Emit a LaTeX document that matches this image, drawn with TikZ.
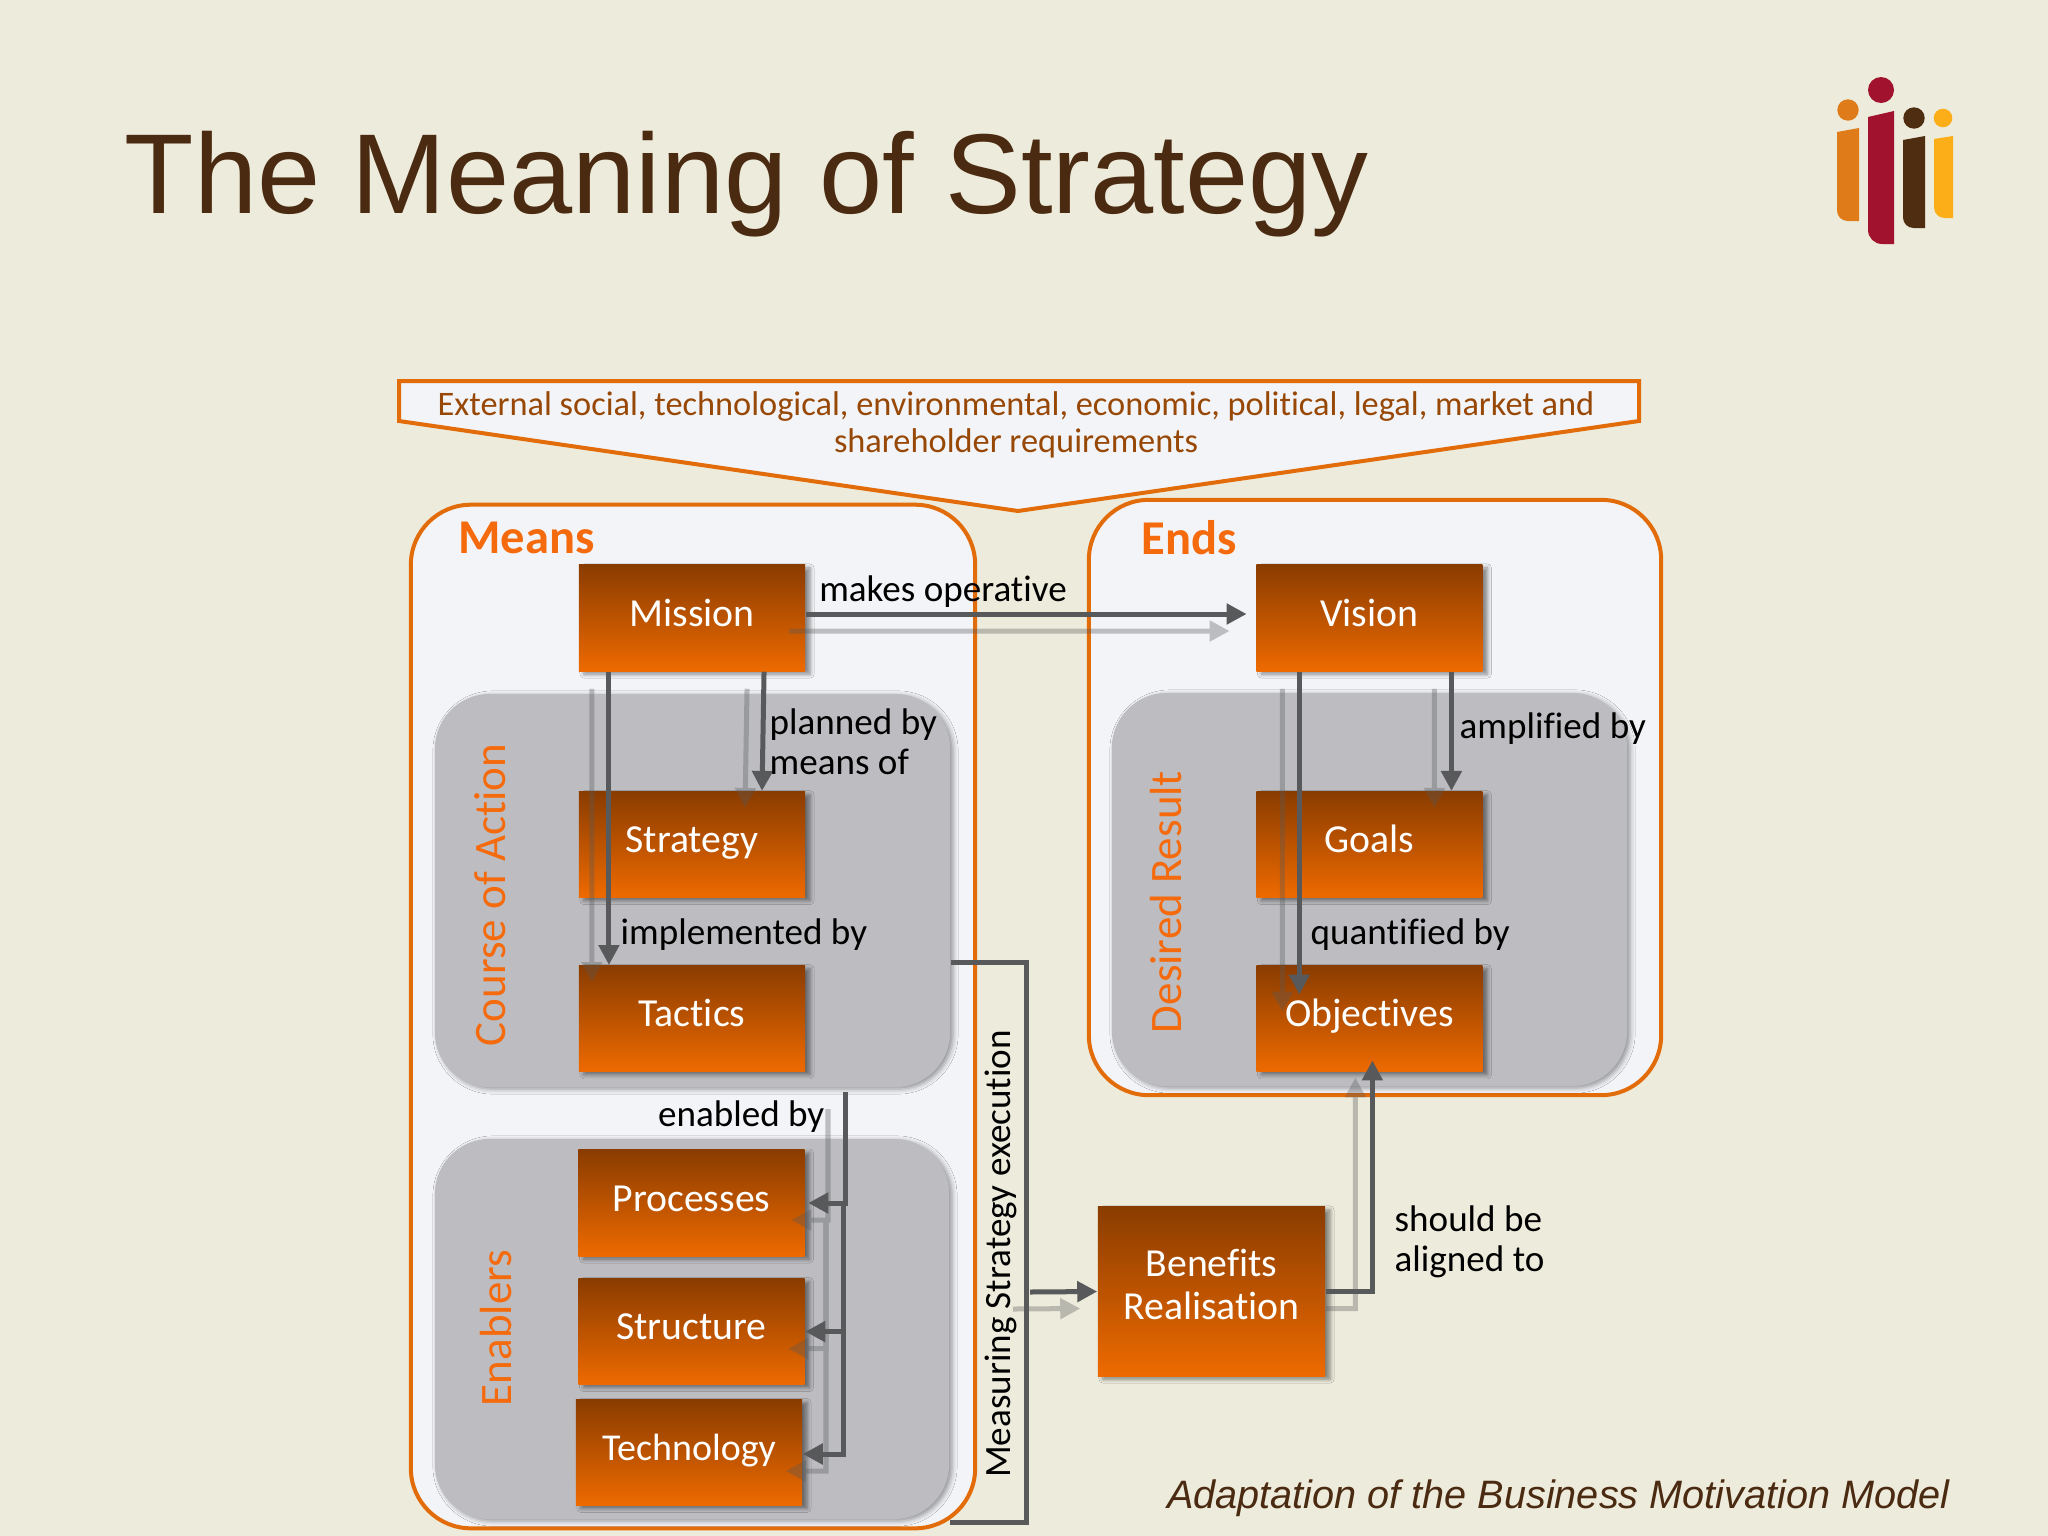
\documentclass[tikz,border=0pt]{standalone}
\usepackage{fontspec}
\setmainfont[Ligatures=NoCommon]{Carlito}
\newfontfamily\titlefont{Liberation Sans}
\usetikzlibrary{arrows.meta,shadows.blur}
\definecolor{slidebg}{HTML}{EDEBDC}
\definecolor{panelwhite}{HTML}{F3F4F7}
\definecolor{panelgrey}{HTML}{BDBDC1}
\definecolor{edgeorange}{HTML}{E36C0A}
\definecolor{headorange}{HTML}{F46A0C}
\definecolor{linkgrey}{HTML}{58595B}
\definecolor{boxtop}{HTML}{8A3C00}
\definecolor{boxbottom}{HTML}{EE6A00}
\definecolor{titlebrown}{HTML}{4A2A10}
\definecolor{calloutbrown}{HTML}{984806}
\definecolor{logoorange}{HTML}{E07B1A}
\definecolor{logored}{HTML}{A0122D}
\definecolor{logobrown}{HTML}{4F2D10}
\definecolor{logoyellow}{HTML}{FBAE17}
\begin{document}
\begin{tikzpicture}[x=0.01cm,y=-0.01cm,
        main box/.style={rectangle,minimum width=2.26cm,minimum height=1.06cm,inner sep=0pt,
            top color=boxtop,bottom color=boxbottom,text=white,font=\fontsize{11.3}{12.3}\selectfont,
            text height=.28cm,text depth=.12cm,
            blur shadow={shadow xshift=.05cm,shadow yshift=-.03cm,shadow blur radius=.04cm,shadow opacity=45}},
        outer panel/.style={rectangle,rounded corners=.6cm,draw=edgeorange,line width=.04cm,fill=panelwhite,inner sep=0pt},
        grey panel/.style={rectangle,rounded corners=.55cm,fill=panelgrey,inner sep=0pt,
            blur shadow={shadow xshift=.03cm,shadow yshift=-.02cm,shadow blur radius=.05cm,shadow opacity=40}},
        group label/.style={font=\fontsize{12.8}{15}\selectfont,text=headorange,rotate=90},
        head label/.style={font=\bfseries\fontsize{13.8}{15}\selectfont,text=headorange,anchor=west},
        link label/.style={font=\fontsize{10.55}{11.4}\selectfont,text=black,align=left,inner sep=0pt},
        link/.style={draw=linkgrey,line width=.05cm,-{Triangle[length=.2cm,width=.2cm]}},
        bare link/.style={draw=linkgrey,line width=.05cm},
        gs/.style={shift={(-.17cm,-.17cm)}}]

    \fill[slidebg] (0,0) rectangle (2048,1536);
    \useasboundingbox (0,0) rectangle (2048,1536);

    \node[anchor=west,inner sep=0pt,text=titlebrown,font=\titlefont\fontsize{32.3}{38}\selectfont] (title) at (124,184) {The Meaning of Strategy};

    \fill[logoorange] (1848,110) circle (10.7);
    \fill[logoorange] (1859,128) -- (1837,132) [rounded corners=3pt] -- (1837,221) [sharp corners] -- (1859,221) -- cycle;
    \fill[logored] (1881,90) circle (13);
    \fill[logored] (1894,111) -- (1868,117) [rounded corners=4pt] -- (1868,244) [sharp corners] -- (1894,244) -- cycle;
    \fill[logobrown] (1914,118) circle (10.7);
    \fill[logobrown] (1925,136) -- (1903,140) [rounded corners=3pt] -- (1903,228) [sharp corners] -- (1925,228) -- cycle;
    \fill[logoyellow] (1943,118) circle (9.3);
    \fill[logoyellow] (1953,136) -- (1934,139) [rounded corners=3pt] -- (1934,218) [sharp corners] -- (1953,218) -- cycle;

    \draw[draw=edgeorange,line width=.04cm,fill=panelwhite] (399,381) -- (1639,381) -- (1639,421) -- (1018,511) -- (399,421) -- cycle;
    \node[font=\fontsize{9.77}{10.6}\selectfont,text=calloutbrown,align=center,inner sep=0pt] (external) at (1016,425)
        {External social, technological, environmental, economic, political, legal, market and\\shareholder requirements};

    \node[outer panel,minimum width=5.64cm,minimum height=10.23cm] (means) at (693,1016.5) {};
    \node[outer panel,minimum width=5.72cm,minimum height=5.95cm] (ends) at (1375,797.5) {};
    \node[grey panel,minimum width=5.15cm,minimum height=3.93cm] (course) at (692.5,890.5) {};
    \node[grey panel,minimum width=5.14cm,minimum height=3.80cm] (enablers) at (692,1329) {};
    \node[grey panel,minimum width=5.15cm,minimum height=3.93cm] (desired) at (1369.5,889.5) {};

    \node[head label] (meanslabel) at (446,538) {Means};
    \node[head label] (endslabel) at (1129,538) {Ends};
    \node[group label] (courselabel) at (490,895) {Course of Action};
    \node[group label] (desiredlabel) at (1166,902) {Desired Result};
    \node[group label] (enablerslabel) at (496,1328) {Enablers};

    \node[main box] (mission) at (692,618) {Mission};
    \node[main box] (strategy) [below of=mission,node distance=2.265cm] {Strategy};
    \node[main box] (tactics) [below of=strategy,node distance=1.74cm] {Tactics};
    \node[main box] (vision) [right of=mission,node distance=6.77cm] {Vision};
    \node[main box] (goals) [below of=vision,node distance=2.265cm] {Goals};
    \node[main box] (objectives) [below of=goals,node distance=1.74cm] {Objectives};
    \node[main box] (processes) at (691.5,1203) {Processes};
    \node[main box] (structure) [below of=processes,node distance=1.285cm] {Structure};
    \node[main box,font=\fontsize{10.8}{12.3}\selectfont] (technology) at (689,1452.5) {Technology};
    \node[rectangle,minimum width=2.27cm,minimum height=1.69cm,inner sep=0pt,top color=boxtop,bottom color=boxbottom,
        blur shadow={shadow xshift=.05cm,shadow yshift=-.03cm,shadow blur radius=.04cm,shadow opacity=45},
        text=white,font=\fontsize{11.3}{12.1}\selectfont,align=center] (benefits) at (1211.5,1291.5) {Benefits\\Realisation\\[-.28cm]\mbox{}};

    \coordinate (enabletop) at (845,1092);
    \coordinate (enabletrunk) at (843,1203);
    \coordinate (measuretop) at (1026,962);
    \coordinate (measurebottom) at (1026,1522);
    \coordinate (benefitsin) at (1030,1292);

    \begin{scope}[transparency group,opacity=.35]
    \draw[link] ([gs,yshift=.04cm]mission.east) -- ([gs,xshift=-.09cm,yshift=.04cm]vision.west);
    \draw[link] ([gs,xshift=-.83cm]mission.south) -- ([gs,xshift=-.83cm]tactics.north);
    \draw[link] ([gs,xshift=.72cm]mission.south) -- ([gs,xshift=.70cm]strategy.north);
    \draw[link] ([gs,xshift=-.70cm]vision.south) -- ([gs,shift={(-.70cm,-.295cm)}]objectives.north);
    \draw[link] ([gs,xshift=.82cm]vision.south) -- ([gs,xshift=.82cm]goals.north);
    \draw[link] ([gs]enabletop) |- ([gs,xshift=.03cm]processes.east);
    \draw[link] ([gs]enabletrunk) |- ([gs]structure.east);
    \draw[link] ([gs]enabletrunk) |- ([gs,yshift=-.015cm]technology.east);
    \draw[link] ([gs]benefitsin) -- ([gs]benefits.west);
    \draw[link] ([yshift=-.17cm]benefits.east) -| ([gs,shift={(.03cm,.12cm)}]objectives.south);
    \end{scope}

    \draw[link] ([yshift=.04cm]mission.east) -- ([xshift=-.09cm,yshift=.04cm]vision.west);
    \draw[link] ([xshift=-.83cm]mission.south) -- ([xshift=-.83cm]tactics.north);
    \draw[link] ([xshift=.72cm]mission.south) -- ([xshift=.70cm]strategy.north);
    \draw[link] ([xshift=-.70cm]vision.south) -- ([shift={(-.70cm,-.295cm)}]objectives.north);
    \draw[link] ([xshift=.82cm]vision.south) -- ([xshift=.82cm]goals.north);
    \draw[link] (enabletop) |- ([xshift=.03cm]processes.east);
    \draw[link] (enabletrunk) |- (structure.east);
    \draw[link] (enabletrunk) |- ([yshift=-.015cm]technology.east);
    \draw[link] (benefitsin) -- (benefits.west);
    \draw[link] (benefits.east) -| ([shift={(.03cm,.12cm)}]objectives.south);
    \draw[bare link] (course.east |- measuretop) -- (measuretop) -- (measurebottom) -- (measurebottom -| enablers.east);

    \node[link label] (makes) at (943,592) {makes operative};
    \node[link label,anchor=west] (planned) at (769,742) {planned by\\means of};
    \node[link label,anchor=west] (implemented) at (620,935) {implemented by};
    \node[link label,anchor=east] (enabled) at (825,1117) {enabled by};
    \node[link label,anchor=west] (amplified) at (1459,729) {amplified by};
    \node[link label,anchor=west] (quantified) at (1310,935) {quantified by};
    \node[link label,anchor=west] (aligned) at (1394,1242) {should be\\aligned to};
    \node[link label,rotate=90] (measuring) at (1001,1254) {Measuring Strategy execution};

    \node[anchor=east,inner sep=0pt,text=titlebrown,font=\titlefont\itshape\fontsize{11.27}{13}\selectfont] (credit) at (1950,1498) {Adaptation of the Business Motivation Model};
\end{tikzpicture}
\end{document}
